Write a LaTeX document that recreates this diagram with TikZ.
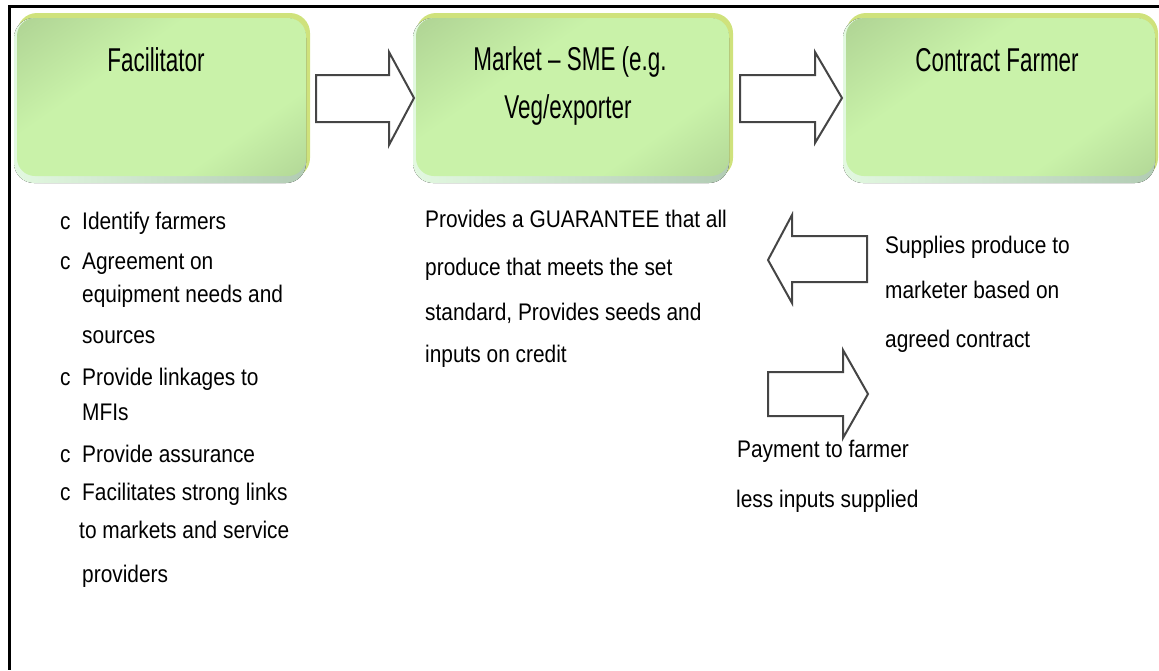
\documentclass[tikz,border=0pt]{standalone}
\usepackage{fontspec}
\setmainfont{Liberation Sans}
\newfontfamily\titlefont{Liberation Sans}[FakeStretch=0.68]
\newfontfamily\bodyfont{Liberation Sans}[FakeStretch=0.87]
\definecolor{gdark}{HTML}{9EBF86}
\definecolor{glight}{HTML}{C9F2A9}
\definecolor{gyellow}{HTML}{CFE27C}
\definecolor{gpaleL}{HTML}{E2F8E0}
\definecolor{gpaleR}{HTML}{B2CCB4}
\definecolor{arrowline}{HTML}{454545}
\pgfdeclareverticalshading{gface}{100bp}{color(0bp)=(gdark); color(32bp)=(glight); color(62bp)=(glight); color(100bp)=(gdark)}
\tikzset{
  frameline/.style={line width=3pt, black},
  backY/.style={fill=gyellow, rounded corners=20pt},
  backP/.style={left color=gpaleL, right color=gpaleR, rounded corners=20pt},
  face/.style={shading=gface, shading angle=35, rounded corners=18pt},
  blockarrow/.style={draw=arrowline, line width=2pt, fill=white, line join=miter},
  title/.style={font=\titlefont\fontsize{33}{40}\selectfont, inner sep=0pt},
  body/.style={font=\bodyfont\fontsize{24}{30}\selectfont, inner sep=0pt, anchor=base west},
}
\begin{document}
\begin{tikzpicture}[x=1pt,y=-1pt]
\useasboundingbox (0,0) rectangle (1159,670);
% frame
\draw[frameline] (8,6) -- (1159,6);
\draw[frameline] (9.5,5) -- (9.5,670);
% boxes
\fill[backY] (17,13) rectangle (310,178);
\fill[backP] (14,18) rectangle (306,183);
\path[face] (17,18) rectangle (306,176);
\fill[backY] (416,13) rectangle (733,178);
\fill[backP] (413,18) rectangle (729,183);
\path[face] (416,18) rectangle (729,176);
\fill[backY] (846,13) rectangle (1158,178);
\fill[backP] (843,18) rectangle (1155,183);
\path[face] (846,18) rectangle (1155,176);
% titles
\node[title, anchor=base] (fac) at (156,71) {Facilitator};
\node[title, anchor=base] (mkt1) at (570,70) {Market – SME (e.g.};
\node[title, anchor=base] (mkt2) at (568,118) {Veg/exporter};
\node[title, anchor=base] (cf) at (997,71) {Contract Farmer};
% block arrows
\draw[blockarrow] (316,75) -- (389,75) -- (389,52) -- (414,98) -- (389,145) -- (389,122) -- (316,122) -- cycle;
\draw[blockarrow] (740,75) -- (815,75) -- (815,52) -- (842,98) -- (815,143) -- (815,122) -- (740,122) -- cycle;
\draw[blockarrow] (867,236) -- (792,236) -- (792,215) -- (768,260) -- (792,303) -- (792,282) -- (867,282) -- cycle;
\draw[blockarrow] (768,372) -- (843,372) -- (843,350) -- (868,394) -- (843,438) -- (843,416) -- (768,416) -- cycle;
% facilitator list
\foreach \y in {229,269,385,462,500}
  \node[body] (bul\y) at (60,\y) {c};
\foreach \y/\t [count=\i] in {229/Identify farmers, 269/Agreement on, 302/equipment needs and, 343/sources, 385/Provide linkages to, 420/MFIs, 462/Provide assurance, 500/Facilitates strong links}
  \node[body] (fl\i) at (82,\y) {\t};
\node[body] (fl9) at (79,538) {to markets and service};
\node[body] (fl10) at (82,582) {providers};
% market text
\foreach \y/\t [count=\i] in {227/Provides a GUARANTEE that all, 275/produce that meets the set, 320/{standard,  Provides seeds and}, 362/inputs on credit}
  \node[body] (ml\i) at (425,\y) {\t};
% farmer text
\foreach \y/\t [count=\i] in {253/Supplies produce to, 298/marketer based on, 347/agreed contract}
  \node[body] (sl\i) at (885,\y) {\t};
\node[body] (pl1) at (737,457) {Payment to farmer};
\node[body] (pl2) at (736,507) {less inputs supplied};
\end{tikzpicture}
\end{document}
